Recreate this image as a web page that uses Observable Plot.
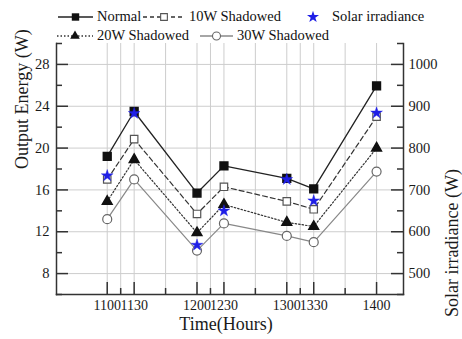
<!DOCTYPE html>
<html><head><meta charset="utf-8">
<script src="https://cdn.jsdelivr.net/npm/d3@7"></script>
<script src="https://cdn.jsdelivr.net/npm/@observablehq/plot@0.6"></script>
<style>
body{margin:0;background:#fff;}
#wrap{position:relative;width:462px;height:339px;font-family:"Liberation Serif",serif;}
.lg{position:absolute;font-family:"Liberation Serif",serif;font-size:14.5px;line-height:1;white-space:nowrap;color:#111;}
.sym{position:absolute;}
</style></head><body><div id="wrap"></div>
<script>
// ---- data ----
const times = [1100, 1130, 1200, 1230, 1300, 1330, 1400];
const normal = [19.2, 23.5, 15.7, 18.3, 17.1, 16.1, 25.95];
const shaded10 = [17.0, 20.85, 13.7, 16.3, 14.9, 14.15, 23.0];
const shaded20 = [14.9, 18.9, 11.9, 14.6, 12.9, 12.5, 20.0];
const shaded30 = [13.2, 17.0, 10.2, 12.8, 11.6, 11.0, 17.75];
const irradiance = [734, 883, 568, 650, 725, 674, 884];
const xTickLabels = ["1100", "1130", "1200", "1230", "1300", "1330", "1400"];
const xMinorTicks = [1115, 1165, 1215, 1265, 1315, 1365];
const energyTicks = [8, 12, 16, 20, 24, 28];
const energyMinor = [6, 10, 14, 18, 22, 26, 30];
const irrTicks = [500, 600, 700, 800, 900, 1000];

// right axis alignment: 500 W <-> 8 W, 1000 W <-> 28 W
const toE = v => 8 + (v - 500) * (28 - 8) / (1000 - 500);
const fromE = e => 500 + (e - 8) * (1000 - 500) / (28 - 8);

const rows = times.map((t, i) => ({t, normal: normal[i], s10: shaded10[i], s20: shaded20[i], s30: shaded30[i], irr: toE(irradiance[i])}));

const W = 462, H = 339, mt = 43, mb = 45, ml = 56, mr = 59;
const pw = W - ml - mr, ph = H - mt - mb;
const grid = "#cdcdcd";
const ink = "#1a1a1a";
const blue = "#1f1fe6";
const serif = '"Liberation Serif", serif';

const chart = Plot.plot({
  width: W, height: H,
  marginTop: mt, marginBottom: mb, marginLeft: ml, marginRight: mr,
  style: {fontFamily: serif, background: "#fff", color: ink},
  x: {domain: [1043.5, 1430], axis: null},
  y: {domain: [6, 30], axis: null},
  marks: [
    Plot.gridY(energyTicks, {stroke: grid, strokeOpacity: 1}),
    Plot.gridX([...times, ...xMinorTicks], {stroke: grid, strokeOpacity: 1}),
    Plot.frame({anchor: "left", stroke: "#333", strokeWidth: 1.5}),
    Plot.frame({anchor: "right", stroke: "#333", strokeWidth: 1.5}),
    Plot.frame({anchor: "bottom", stroke: "#333", strokeWidth: 1.5}),
    Plot.tickY(energyTicks, {y: d => d, insetRight: pw - 12, stroke: "#333", strokeWidth: 1.5}),
    Plot.tickY(energyMinor, {y: d => d, insetRight: pw - 6, stroke: "#333", strokeWidth: 1.5}),
    Plot.tickY(irrTicks, {y: d => toE(d), insetLeft: pw - 12, stroke: "#333", strokeWidth: 1.5}),
    Plot.tickY(energyMinor, {y: d => d, insetLeft: pw - 6, stroke: "#333", strokeWidth: 1.5}),
    Plot.tickX(times, {x: d => d, insetTop: ph - 12, stroke: "#333", strokeWidth: 1.5}),
    Plot.tickX(xMinorTicks, {x: d => d, insetTop: ph - 6, stroke: "#333", strokeWidth: 1.5}),
    Plot.axisY(energyTicks, {anchor: "left", tickSize: 0, tickPadding: 7, fontSize: 14.5, fontFamily: serif, label: null, fill: ink}),
    Plot.axisY(irrTicks.map(toE), {anchor: "right", tickSize: 0, tickPadding: 5, fontSize: 14.5, fontFamily: serif, label: null, fill: ink, tickFormat: e => String(Math.round(fromE(e)))}),
    Plot.axisX(times, {anchor: "bottom", tickSize: 0, tickPadding: 6, fontSize: 14, fontFamily: serif, label: null, fill: ink, tickFormat: d => xTickLabels[times.indexOf(d)]}),
    Plot.text(["Output Energy (W)"], {frameAnchor: "left", rotate: -90, dx: -34, fontSize: 18, fontFamily: serif, fill: ink}),
    Plot.text(["Solar irradiance (W)"], {frameAnchor: "right", rotate: -90, dx: 49, fontSize: 18, fontFamily: serif, fill: ink}),
    Plot.text(["Time(Hours)"], {frameAnchor: "bottom", dy: 35, dx: -4, fontSize: 18, fontFamily: serif, fill: ink}),
    // lines
    Plot.line(rows, {x: "t", y: "normal", stroke: "#222", strokeWidth: 1.3}),
    Plot.line(rows, {x: "t", y: "s10", stroke: "#333", strokeWidth: 1.2, strokeDasharray: "5,3"}),
    Plot.line(rows, {x: "t", y: "s20", stroke: "#333", strokeWidth: 1.2, strokeDasharray: "1.5,2"}),
    Plot.line(rows, {x: "t", y: "s30", stroke: "#888", strokeWidth: 1.2}),
    // markers
    Plot.dot(rows, {x: "t", y: "normal", symbol: "square", r: 4.4, fill: "#111", stroke: "#111"}),
    Plot.dot(rows, {x: "t", y: "s10", symbol: "square", r: 4.2, fill: "#fff", stroke: "#555", strokeWidth: 1.2}),
    Plot.dot(rows, {x: "t", y: "s20", symbol: "triangle", r: 3.6, fill: "#111", stroke: "#111"}),
    Plot.dot(rows, {x: "t", y: "s30", symbol: "circle", r: 4.5, fill: "#fff", stroke: "#666", strokeWidth: 1.2}),
    Plot.dot(rows, {x: "t", y: "irr", symbol: "star", r: 3.7, fill: blue, stroke: blue, strokeWidth: 0.4})
  ]
});
const wrap = document.getElementById("wrap");
wrap.appendChild(chart);

// ---- legend (HTML overlay above the plot frame) ----
function sym(kind, x, y, w) {
  const h = 14;
  const s = d3.create("svg").attr("class", "sym").attr("width", w).attr("height", h)
    .style("left", x + "px").style("top", (y - h / 2) + "px");
  const cx = w / 2, cy = h / 2;
  if (kind !== "star") {
    const ln = s.append("line").attr("x1", 0).attr("x2", w).attr("y1", cy).attr("y2", cy).attr("stroke-width", 1.3);
    if (kind === "normal") ln.attr("stroke", "#222");
    if (kind === "s10") ln.attr("stroke", "#333").attr("stroke-dasharray", "4,3");
    if (kind === "s20") ln.attr("stroke", "#333").attr("stroke-dasharray", "1.5,2");
    if (kind === "s30") ln.attr("stroke", "#888");
  }
  const sh = {normal: d3.symbolSquare, s10: d3.symbolSquare, s20: d3.symbolTriangle, s30: d3.symbolCircle, star: d3.symbolStar}[kind];
  const size = {normal: 55, s10: 45, s20: 40, s30: 50, star: 45}[kind];
  const p = s.append("path").attr("d", d3.symbol(sh, size)()).attr("transform", `translate(${cx},${cy})`);
  if (kind === "normal" || kind === "s20") p.attr("fill", "#111");
  if (kind === "s10") p.attr("fill", "#fff").attr("stroke", "#555").attr("stroke-width", 1.1);
  if (kind === "s30") p.attr("fill", "#fff").attr("stroke", "#666").attr("stroke-width", 1.1);
  if (kind === "star") p.attr("fill", blue);
  wrap.appendChild(s.node());
}
function lab(text, x, y) {
  const d = document.createElement("div");
  d.className = "lg"; d.textContent = text;
  d.style.left = x + "px"; d.style.top = (y - 8) + "px";
  wrap.appendChild(d);
}
const legendNames = ["Normal", "10W Shadowed", "Solar irradiance", "20W Shadowed", "30W Shadowed"];
sym("normal", 58, 17, 35); lab(legendNames[0], 97, 17);
sym("s10", 143, 17, 42); lab(legendNames[1], 189, 17);
sym("star", 305, 17, 16); lab(legendNames[2], 332, 17);
sym("s20", 57, 36, 36); lab(legendNames[3], 97, 36);
sym("s30", 200, 36, 33); lab(legendNames[4], 237, 36);
</script></body></html>
